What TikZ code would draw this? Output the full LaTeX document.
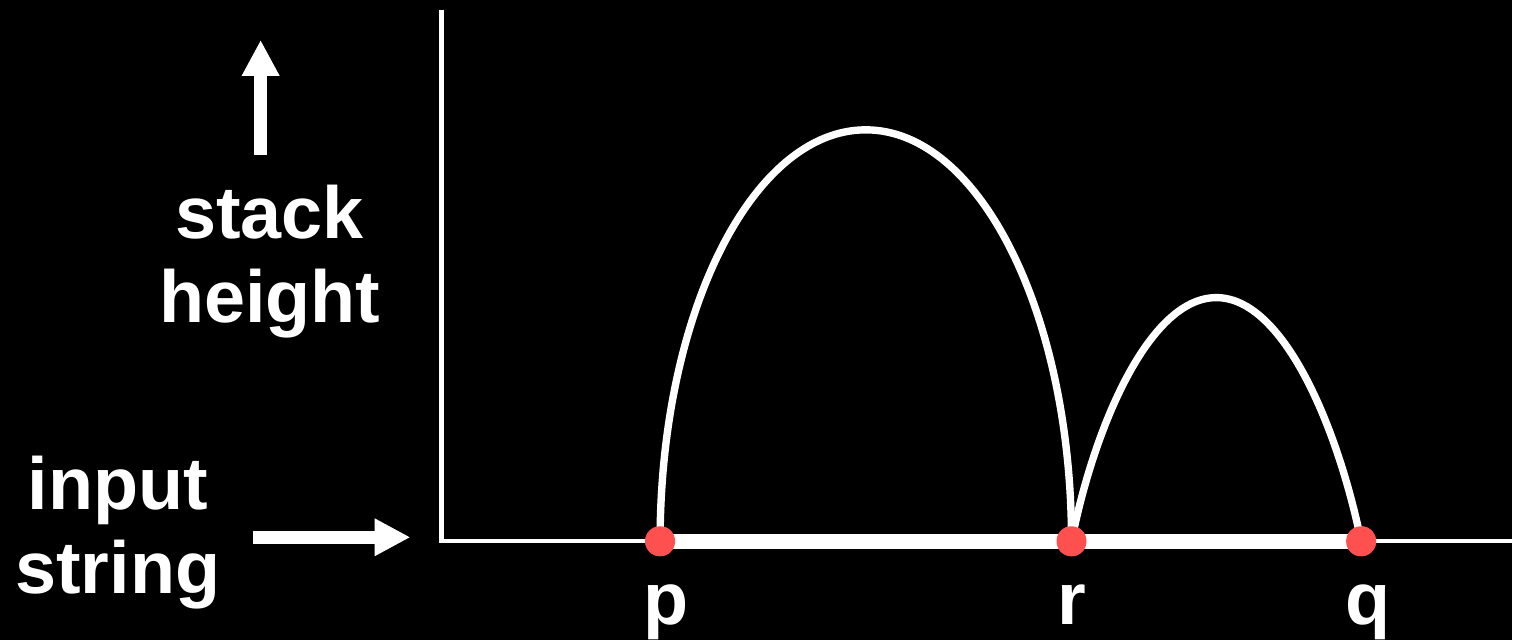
\documentclass[tikz,border=0pt]{standalone}
\usepackage{fontspec}
\setmainfont{Liberation Sans}
\usepackage{xcolor}
\definecolor{dotred}{RGB}{255,80,80}
\usetikzlibrary{arrows.meta,positioning,calc}

\begin{document}
\begin{tikzpicture}[
    x=0.01cm, y=0.01cm,
  axis/.style={white, line width=1.2pt},
  hump/.style={white, line width=2.1pt},
  fat/.style={white, line width=3.7pt, -{Triangle[width=10pt, length=10.2pt]}},
  lab/.style={font=\bfseries\fontsize{21}{24}\selectfont, text=white, align=center, inner sep=0pt},
  pt/.style={circle, fill=dotred, minimum size=0.3cm, inner sep=0pt}
]
\fill[black] (0,0) rectangle (1514,641);

% ===== AXES =====
\coordinate (origin) at (442,99);
\coordinate (ytop) at (442,631);
\coordinate (xend) at (1514,99);
\draw[axis] (ytop) -- (origin) -- (xend);

% ===== POINTS =====
\node[pt] (p) at (661,99) {};
\node[pt] (r) at (1073,99) {};
\node[pt] (q) at (1363,99) {};
\draw[white, line width=4.3pt] (p.center) -- (q.center);

% ===== HUMPS =====
\draw[hump] (p.center) arc[start angle=180, end angle=0, x radius=206, y radius=412];
\draw[hump] (r.center) .. controls (1095,211) and (1150,343) .. (1218,343)
  .. controls (1286,343) and (1340,211) .. (q.center);
\node[pt] at (p) {};
\node[pt] at (r) {};
\node[pt] at (q) {};

% ===== LABELS =====
\node[lab, anchor=base] (plab) at (667,16) {p};
\node[lab, anchor=base] (rlab) at (1073,16) {r};
\node[lab, anchor=base] (qlab) at (1370,16) {q};

\node[lab] (height) at (270,379) {stack\\height};
\node[lab] (input) at (118,108) {input\\string};

\coordinate (up0) at (261,486);
\coordinate (up1) at (261,601);
\draw[fat] (up0) -- (up1);
\coordinate (in0) at (253,103);
\coordinate (in1) at (411,103);
\draw[fat] (in0) -- (in1);

\end{tikzpicture}
\end{document}
